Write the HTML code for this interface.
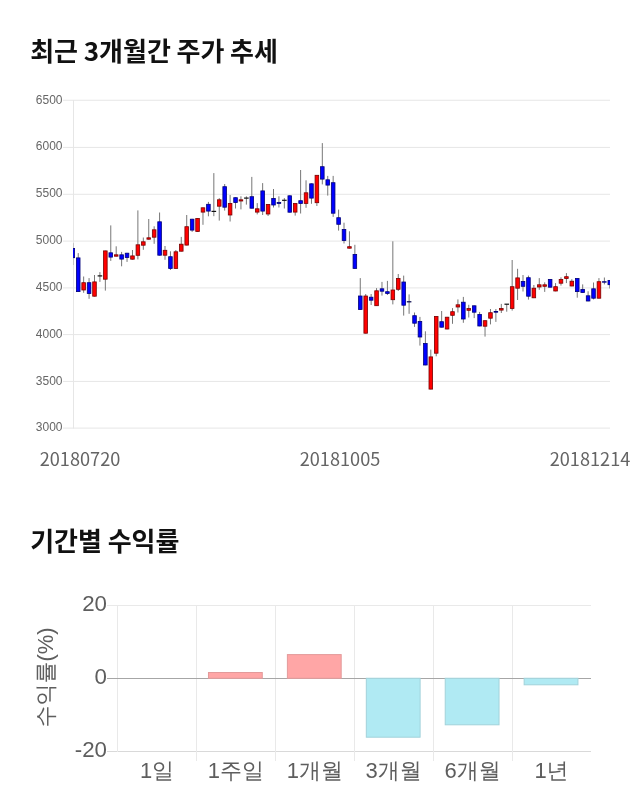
<!DOCTYPE html>
<html lang="ko"><head><meta charset="utf-8"><title>최근 3개월간 주가 추세</title>
<style>
html,body{margin:0;padding:0;background:#fff;}
body{width:640px;height:810px;position:relative;overflow:hidden;font-family:"Liberation Sans","Noto Sans CJK KR",sans-serif;}
h2{position:absolute;margin:0;left:30.2px;font-family:"Noto Sans CJK KR","Liberation Sans",sans-serif;font-weight:700;font-size:26px;line-height:36px;word-spacing:-1.6px;color:#111;white-space:nowrap;letter-spacing:0;}
#t1{top:32px;}
#t2{top:521.5px;}
svg{position:absolute;left:0;top:0;}
.yl{font-family:"Liberation Sans",sans-serif;font-size:12px;fill:#666;text-anchor:end;}
.xl{font-family:"Noto Sans CJK KR","Liberation Sans",sans-serif;font-size:18.15px;fill:#646464;text-anchor:middle;}
.by{font-family:"Liberation Sans",sans-serif;font-size:22.3px;fill:#5e5e5e;text-anchor:end;}
.bx{font-family:"Liberation Sans","WenQuanYi Zen Hei",sans-serif;font-size:22px;fill:#5e5e5e;text-anchor:middle;}
.bt{font-family:"Liberation Sans","WenQuanYi Zen Hei",sans-serif;font-size:22px;fill:#5e5e5e;text-anchor:middle;}
</style></head><body>
<h2 id="t1">최근 3개월간 주가 추세</h2>
<h2 id="t2">기간별 수익률</h2>
<svg width="640" height="810" viewBox="0 0 640 810">
<defs><clipPath id="cp"><rect x="73" y="95" width="537" height="340"/></clipPath></defs>

<g stroke="#e6e6e6" stroke-width="1">
<line x1="63" y1="100.25" x2="610" y2="100.25"/>
<line x1="63" y1="147.4" x2="610" y2="147.4"/>
<line x1="63" y1="194.3" x2="610" y2="194.3"/>
<line x1="63" y1="241.1" x2="610" y2="241.1"/>
<line x1="63" y1="287.9" x2="610" y2="287.9"/>
<line x1="63" y1="334.6" x2="610" y2="334.6"/>
<line x1="63" y1="381.4" x2="610" y2="381.4"/>
<line x1="63" y1="428.1" x2="610" y2="428.1"/>
<line x1="73.5" y1="100" x2="73.5" y2="428.5"/>
</g>
<text class="yl" x="62.5" y="103.5">6500</text>
<text class="yl" x="62.5" y="150.3">6000</text>
<text class="yl" x="62.5" y="197.1">5500</text>
<text class="yl" x="62.5" y="244.0">5000</text>
<text class="yl" x="62.5" y="290.8">4500</text>
<text class="yl" x="62.5" y="337.7">4000</text>
<text class="yl" x="62.5" y="384.5">3500</text>
<text class="yl" x="62.5" y="431.3">3000</text>
<text class="xl" x="80" y="466.3">20180720</text>
<text class="xl" x="340" y="466.3">20181005</text>
<text class="xl" x="590" y="466.3">20181214</text>
<g clip-path="url(#cp)">
<g stroke="#777" stroke-width="1">
<line x1="72.80" y1="243.1" x2="72.80" y2="265.0"/>
<line x1="78.22" y1="253.1" x2="78.22" y2="291.9"/>
<line x1="83.65" y1="276.5" x2="83.65" y2="292.8"/>
<line x1="89.07" y1="278.1" x2="89.07" y2="298.8"/>
<line x1="94.50" y1="275.0" x2="94.50" y2="296.5"/>
<line x1="99.92" y1="272.1" x2="99.92" y2="281.9"/>
<line x1="105.35" y1="250.6" x2="105.35" y2="290.6"/>
<line x1="110.77" y1="225.4" x2="110.77" y2="260.9"/>
<line x1="116.19" y1="246.3" x2="116.19" y2="256.5"/>
<line x1="121.62" y1="251.9" x2="121.62" y2="266.3"/>
<line x1="127.04" y1="252.8" x2="127.04" y2="261.9"/>
<line x1="132.47" y1="250.0" x2="132.47" y2="259.6"/>
<line x1="137.89" y1="210.4" x2="137.89" y2="259.4"/>
<line x1="143.32" y1="237.5" x2="143.32" y2="249.8"/>
<line x1="148.74" y1="219.0" x2="148.74" y2="239.6"/>
<line x1="154.16" y1="226.3" x2="154.16" y2="243.8"/>
<line x1="159.59" y1="212.5" x2="159.59" y2="255.6"/>
<line x1="165.01" y1="246.0" x2="165.01" y2="259.8"/>
<line x1="170.44" y1="251.3" x2="170.44" y2="270.0"/>
<line x1="175.86" y1="250.0" x2="175.86" y2="268.8"/>
<line x1="181.28" y1="236.9" x2="181.28" y2="251.5"/>
<line x1="186.71" y1="215.0" x2="186.71" y2="245.4"/>
<line x1="192.13" y1="218.8" x2="192.13" y2="231.9"/>
<line x1="197.56" y1="218.1" x2="197.56" y2="231.9"/>
<line x1="202.98" y1="207.5" x2="202.98" y2="224.8"/>
<line x1="208.41" y1="201.9" x2="208.41" y2="216.3"/>
<line x1="213.83" y1="173.1" x2="213.83" y2="216.2"/>
<line x1="219.25" y1="198.1" x2="219.25" y2="220.6"/>
<line x1="224.68" y1="184.0" x2="224.68" y2="210.6"/>
<line x1="230.10" y1="195.0" x2="230.10" y2="221.5"/>
<line x1="235.53" y1="197.3" x2="235.53" y2="208.5"/>
<line x1="240.95" y1="196.3" x2="240.95" y2="209.4"/>
<line x1="246.38" y1="196.3" x2="246.38" y2="204.6"/>
<line x1="251.80" y1="176.9" x2="251.80" y2="208.5"/>
<line x1="257.22" y1="203.1" x2="257.22" y2="214.4"/>
<line x1="262.65" y1="183.1" x2="262.65" y2="215.0"/>
<line x1="268.07" y1="204.1" x2="268.07" y2="216.0"/>
<line x1="273.50" y1="189.0" x2="273.50" y2="207.5"/>
<line x1="278.92" y1="196.3" x2="278.92" y2="207.5"/>
<line x1="284.35" y1="198.1" x2="284.35" y2="208.5"/>
<line x1="289.77" y1="195.4" x2="289.77" y2="212.5"/>
<line x1="295.19" y1="203.1" x2="295.19" y2="215.6"/>
<line x1="300.62" y1="170.0" x2="300.62" y2="213.5"/>
<line x1="306.04" y1="180.3" x2="306.04" y2="207.8"/>
<line x1="311.47" y1="183.4" x2="311.47" y2="203.8"/>
<line x1="316.89" y1="175.0" x2="316.89" y2="206.0"/>
<line x1="322.32" y1="143.1" x2="322.32" y2="184.4"/>
<line x1="327.74" y1="175.9" x2="327.74" y2="195.6"/>
<line x1="333.16" y1="175.9" x2="333.16" y2="216.9"/>
<line x1="338.59" y1="209.6" x2="338.59" y2="230.6"/>
<line x1="344.01" y1="222.7" x2="344.01" y2="243.5"/>
<line x1="349.44" y1="231.3" x2="349.44" y2="248.5"/>
<line x1="354.86" y1="244.8" x2="354.86" y2="268.8"/>
<line x1="360.28" y1="278.1" x2="360.28" y2="309.8"/>
<line x1="365.71" y1="294.0" x2="365.71" y2="333.5"/>
<line x1="371.13" y1="294.0" x2="371.13" y2="305.0"/>
<line x1="376.56" y1="288.1" x2="376.56" y2="306.0"/>
<line x1="381.98" y1="281.9" x2="381.98" y2="295.6"/>
<line x1="387.41" y1="280.9" x2="387.41" y2="295.0"/>
<line x1="392.83" y1="241.3" x2="392.83" y2="304.4"/>
<line x1="398.25" y1="274.0" x2="398.25" y2="291.0"/>
<line x1="403.68" y1="275.6" x2="403.68" y2="315.6"/>
<line x1="409.10" y1="294.4" x2="409.10" y2="313.8"/>
<line x1="414.53" y1="312.5" x2="414.53" y2="326.9"/>
<line x1="419.95" y1="316.9" x2="419.95" y2="345.6"/>
<line x1="425.38" y1="331.3" x2="425.38" y2="365.3"/>
<line x1="430.80" y1="349.6" x2="430.80" y2="389.4"/>
<line x1="436.22" y1="316.1" x2="436.22" y2="356.3"/>
<line x1="441.65" y1="311.0" x2="441.65" y2="327.5"/>
<line x1="447.07" y1="316.9" x2="447.07" y2="329.4"/>
<line x1="452.50" y1="308.1" x2="452.50" y2="323.8"/>
<line x1="457.92" y1="299.4" x2="457.92" y2="312.5"/>
<line x1="463.35" y1="296.9" x2="463.35" y2="322.8"/>
<line x1="468.77" y1="304.8" x2="468.77" y2="317.5"/>
<line x1="474.19" y1="305.4" x2="474.19" y2="318.1"/>
<line x1="479.62" y1="311.9" x2="479.62" y2="326.3"/>
<line x1="485.04" y1="320.3" x2="485.04" y2="336.6"/>
<line x1="490.47" y1="309.0" x2="490.47" y2="324.4"/>
<line x1="495.89" y1="309.0" x2="495.89" y2="321.9"/>
<line x1="501.32" y1="303.9" x2="501.32" y2="313.0"/>
<line x1="506.74" y1="304.2" x2="506.74" y2="311.7"/>
<line x1="512.16" y1="260.0" x2="512.16" y2="310.6"/>
<line x1="517.59" y1="268.8" x2="517.59" y2="300.0"/>
<line x1="523.01" y1="275.0" x2="523.01" y2="291.5"/>
<line x1="528.44" y1="275.6" x2="528.44" y2="299.6"/>
<line x1="533.86" y1="285.0" x2="533.86" y2="298.1"/>
<line x1="539.28" y1="278.1" x2="539.28" y2="289.8"/>
<line x1="544.71" y1="282.3" x2="544.71" y2="291.9"/>
<line x1="550.13" y1="279.0" x2="550.13" y2="287.5"/>
<line x1="555.56" y1="283.1" x2="555.56" y2="291.3"/>
<line x1="560.98" y1="277.3" x2="560.98" y2="285.6"/>
<line x1="566.41" y1="273.1" x2="566.41" y2="283.1"/>
<line x1="571.83" y1="279.2" x2="571.83" y2="286.3"/>
<line x1="577.25" y1="278.1" x2="577.25" y2="297.7"/>
<line x1="582.68" y1="284.4" x2="582.68" y2="292.8"/>
<line x1="588.10" y1="291.3" x2="588.10" y2="301.3"/>
<line x1="593.53" y1="282.5" x2="593.53" y2="299.4"/>
<line x1="598.95" y1="278.1" x2="598.95" y2="298.5"/>
<line x1="604.38" y1="277.5" x2="604.38" y2="284.4"/>
<line x1="609.80" y1="280.0" x2="609.80" y2="288.5"/>
</g>
<rect x="71.00" y="248.4" width="3.6" height="9.3" fill="#0000ff" stroke="#000078" stroke-width="0.8"/>
<rect x="76.42" y="257.9" width="3.6" height="33.7" fill="#0000ff" stroke="#000078" stroke-width="0.8"/>
<rect x="81.85" y="282.7" width="3.6" height="7.3" fill="#ff0000" stroke="#780000" stroke-width="0.8"/>
<rect x="87.27" y="282.7" width="3.6" height="10.8" fill="#0000ff" stroke="#000078" stroke-width="0.8"/>
<rect x="92.70" y="281.9" width="3.6" height="14.3" fill="#ff0000" stroke="#780000" stroke-width="0.8"/>
<rect x="97.62" y="275.3" width="4.6" height="1.2" fill="#111"/>
<rect x="103.55" y="250.9" width="3.6" height="28.3" fill="#ff0000" stroke="#780000" stroke-width="0.8"/>
<rect x="108.97" y="252.8" width="3.6" height="4.3" fill="#0000ff" stroke="#000078" stroke-width="0.8"/>
<rect x="114.39" y="254.8" width="3.6" height="1.4" fill="#ff0000" stroke="#780000" stroke-width="0.8"/>
<rect x="119.82" y="254.8" width="3.6" height="4.3" fill="#0000ff" stroke="#000078" stroke-width="0.8"/>
<rect x="125.24" y="253.2" width="3.6" height="4.3" fill="#0000ff" stroke="#000078" stroke-width="0.8"/>
<rect x="130.67" y="255.9" width="3.6" height="3.3" fill="#ff0000" stroke="#780000" stroke-width="0.8"/>
<rect x="136.09" y="244.8" width="3.6" height="10.5" fill="#ff0000" stroke="#780000" stroke-width="0.8"/>
<rect x="141.52" y="241.8" width="3.6" height="3.4" fill="#ff0000" stroke="#780000" stroke-width="0.8"/>
<rect x="146.94" y="237.8" width="3.6" height="1.4" fill="#ff0000" stroke="#780000" stroke-width="0.8"/>
<rect x="152.36" y="229.8" width="3.6" height="7.4" fill="#ff0000" stroke="#780000" stroke-width="0.8"/>
<rect x="157.79" y="221.8" width="3.6" height="33.4" fill="#0000ff" stroke="#000078" stroke-width="0.8"/>
<rect x="163.21" y="250.3" width="3.6" height="4.9" fill="#ff0000" stroke="#780000" stroke-width="0.8"/>
<rect x="168.64" y="256.7" width="3.6" height="11.8" fill="#0000ff" stroke="#000078" stroke-width="0.8"/>
<rect x="174.06" y="251.8" width="3.6" height="16.6" fill="#ff0000" stroke="#780000" stroke-width="0.8"/>
<rect x="179.48" y="244.2" width="3.6" height="7.0" fill="#ff0000" stroke="#780000" stroke-width="0.8"/>
<rect x="184.91" y="226.7" width="3.6" height="18.4" fill="#ff0000" stroke="#780000" stroke-width="0.8"/>
<rect x="190.33" y="219.2" width="3.6" height="10.9" fill="#0000ff" stroke="#000078" stroke-width="0.8"/>
<rect x="195.76" y="218.4" width="3.6" height="13.1" fill="#ff0000" stroke="#780000" stroke-width="0.8"/>
<rect x="201.18" y="207.8" width="3.6" height="4.3" fill="#ff0000" stroke="#780000" stroke-width="0.8"/>
<rect x="206.61" y="204.3" width="3.6" height="6.8" fill="#0000ff" stroke="#000078" stroke-width="0.8"/>
<rect x="211.53" y="210.8" width="4.6" height="1.2" fill="#111"/>
<rect x="217.45" y="199.8" width="3.6" height="6.4" fill="#ff0000" stroke="#780000" stroke-width="0.8"/>
<rect x="222.88" y="186.7" width="3.6" height="20.5" fill="#0000ff" stroke="#000078" stroke-width="0.8"/>
<rect x="228.30" y="203.4" width="3.6" height="11.6" fill="#ff0000" stroke="#780000" stroke-width="0.8"/>
<rect x="233.73" y="197.7" width="3.6" height="4.9" fill="#0000ff" stroke="#000078" stroke-width="0.8"/>
<rect x="239.15" y="199.8" width="3.6" height="1.2" fill="#ff0000" stroke="#780000" stroke-width="0.8"/>
<rect x="244.08" y="197.5" width="4.6" height="1.2" fill="#111"/>
<rect x="250.00" y="196.7" width="3.6" height="11.5" fill="#0000ff" stroke="#000078" stroke-width="0.8"/>
<rect x="255.42" y="208.8" width="3.6" height="3.3" fill="#ff0000" stroke="#780000" stroke-width="0.8"/>
<rect x="260.85" y="190.9" width="3.6" height="20.2" fill="#0000ff" stroke="#000078" stroke-width="0.8"/>
<rect x="266.27" y="204.4" width="3.6" height="9.6" fill="#ff0000" stroke="#780000" stroke-width="0.8"/>
<rect x="271.70" y="198.4" width="3.6" height="6.6" fill="#0000ff" stroke="#000078" stroke-width="0.8"/>
<rect x="277.12" y="202.4" width="3.6" height="1.0" fill="#0000ff" stroke="#000078" stroke-width="0.8"/>
<rect x="282.05" y="199.7" width="4.6" height="1.2" fill="#111"/>
<rect x="287.97" y="195.8" width="3.6" height="16.4" fill="#0000ff" stroke="#000078" stroke-width="0.8"/>
<rect x="293.39" y="203.4" width="3.6" height="8.7" fill="#ff0000" stroke="#780000" stroke-width="0.8"/>
<rect x="298.82" y="200.7" width="3.6" height="2.8" fill="#0000ff" stroke="#000078" stroke-width="0.8"/>
<rect x="304.24" y="192.8" width="3.6" height="10.6" fill="#ff0000" stroke="#780000" stroke-width="0.8"/>
<rect x="309.67" y="183.8" width="3.6" height="14.3" fill="#0000ff" stroke="#000078" stroke-width="0.8"/>
<rect x="315.09" y="175.3" width="3.6" height="27.4" fill="#ff0000" stroke="#780000" stroke-width="0.8"/>
<rect x="320.52" y="166.7" width="3.6" height="12.4" fill="#0000ff" stroke="#000078" stroke-width="0.8"/>
<rect x="325.94" y="179.8" width="3.6" height="5.3" fill="#0000ff" stroke="#000078" stroke-width="0.8"/>
<rect x="331.36" y="182.7" width="3.6" height="30.5" fill="#0000ff" stroke="#000078" stroke-width="0.8"/>
<rect x="336.79" y="217.7" width="3.6" height="6.6" fill="#0000ff" stroke="#000078" stroke-width="0.8"/>
<rect x="342.21" y="229.4" width="3.6" height="11.2" fill="#0000ff" stroke="#000078" stroke-width="0.8"/>
<rect x="347.64" y="246.7" width="3.6" height="1.5" fill="#ff0000" stroke="#780000" stroke-width="0.8"/>
<rect x="353.06" y="254.4" width="3.6" height="14.0" fill="#0000ff" stroke="#000078" stroke-width="0.8"/>
<rect x="358.48" y="296.0" width="3.6" height="13.5" fill="#0000ff" stroke="#000078" stroke-width="0.8"/>
<rect x="363.91" y="296.0" width="3.6" height="37.2" fill="#ff0000" stroke="#780000" stroke-width="0.8"/>
<rect x="369.33" y="297.2" width="3.6" height="3.0" fill="#0000ff" stroke="#000078" stroke-width="0.8"/>
<rect x="374.76" y="290.8" width="3.6" height="14.9" fill="#ff0000" stroke="#780000" stroke-width="0.8"/>
<rect x="380.18" y="288.8" width="3.6" height="2.4" fill="#0000ff" stroke="#000078" stroke-width="0.8"/>
<rect x="385.61" y="291.7" width="3.6" height="1.8" fill="#0000ff" stroke="#000078" stroke-width="0.8"/>
<rect x="391.03" y="290.0" width="3.6" height="9.7" fill="#ff0000" stroke="#780000" stroke-width="0.8"/>
<rect x="396.45" y="278.5" width="3.6" height="10.8" fill="#ff0000" stroke="#780000" stroke-width="0.8"/>
<rect x="401.88" y="282.0" width="3.6" height="23.2" fill="#0000ff" stroke="#000078" stroke-width="0.8"/>
<rect x="406.80" y="301.2" width="4.6" height="1.2" fill="#00004a"/>
<rect x="412.73" y="315.7" width="3.6" height="7.5" fill="#0000ff" stroke="#000078" stroke-width="0.8"/>
<rect x="418.15" y="321.4" width="3.6" height="15.6" fill="#0000ff" stroke="#000078" stroke-width="0.8"/>
<rect x="423.58" y="343.5" width="3.6" height="21.5" fill="#0000ff" stroke="#000078" stroke-width="0.8"/>
<rect x="429.00" y="356.9" width="3.6" height="32.2" fill="#ff0000" stroke="#780000" stroke-width="0.8"/>
<rect x="434.42" y="316.5" width="3.6" height="36.7" fill="#ff0000" stroke="#780000" stroke-width="0.8"/>
<rect x="439.85" y="321.7" width="3.6" height="5.5" fill="#0000ff" stroke="#000078" stroke-width="0.8"/>
<rect x="445.27" y="317.2" width="3.6" height="11.8" fill="#ff0000" stroke="#780000" stroke-width="0.8"/>
<rect x="450.70" y="311.7" width="3.6" height="3.6" fill="#ff0000" stroke="#780000" stroke-width="0.8"/>
<rect x="456.12" y="304.8" width="3.6" height="2.2" fill="#ff0000" stroke="#780000" stroke-width="0.8"/>
<rect x="461.55" y="302.2" width="3.6" height="16.8" fill="#0000ff" stroke="#000078" stroke-width="0.8"/>
<rect x="466.97" y="308.5" width="3.6" height="1.8" fill="#ff0000" stroke="#780000" stroke-width="0.8"/>
<rect x="472.39" y="305.8" width="3.6" height="6.4" fill="#0000ff" stroke="#000078" stroke-width="0.8"/>
<rect x="477.82" y="314.5" width="3.6" height="11.5" fill="#0000ff" stroke="#000078" stroke-width="0.8"/>
<rect x="483.24" y="320.7" width="3.6" height="5.5" fill="#ff0000" stroke="#780000" stroke-width="0.8"/>
<rect x="488.67" y="312.7" width="3.6" height="5.5" fill="#ff0000" stroke="#780000" stroke-width="0.8"/>
<rect x="494.09" y="311.4" width="3.6" height="0.8" fill="#0000ff" stroke="#000078" stroke-width="0.8"/>
<rect x="499.52" y="308.5" width="3.6" height="1.6" fill="#ff0000" stroke="#780000" stroke-width="0.8"/>
<rect x="504.44" y="303.6" width="4.6" height="1.2" fill="#111"/>
<rect x="510.36" y="286.7" width="3.6" height="21.8" fill="#ff0000" stroke="#780000" stroke-width="0.8"/>
<rect x="515.79" y="277.9" width="3.6" height="10.3" fill="#ff0000" stroke="#780000" stroke-width="0.8"/>
<rect x="521.21" y="281.4" width="3.6" height="4.9" fill="#0000ff" stroke="#000078" stroke-width="0.8"/>
<rect x="526.64" y="277.7" width="3.6" height="18.5" fill="#0000ff" stroke="#000078" stroke-width="0.8"/>
<rect x="532.06" y="288.2" width="3.6" height="9.6" fill="#ff0000" stroke="#780000" stroke-width="0.8"/>
<rect x="537.48" y="284.8" width="3.6" height="2.2" fill="#ff0000" stroke="#780000" stroke-width="0.8"/>
<rect x="542.91" y="284.8" width="3.6" height="1.5" fill="#ff0000" stroke="#780000" stroke-width="0.8"/>
<rect x="548.33" y="279.4" width="3.6" height="7.8" fill="#0000ff" stroke="#000078" stroke-width="0.8"/>
<rect x="553.76" y="286.7" width="3.6" height="4.3" fill="#ff0000" stroke="#780000" stroke-width="0.8"/>
<rect x="559.18" y="279.4" width="3.6" height="3.8" fill="#ff0000" stroke="#780000" stroke-width="0.8"/>
<rect x="564.61" y="276.7" width="3.6" height="1.8" fill="#ff0000" stroke="#780000" stroke-width="0.8"/>
<rect x="570.03" y="281.2" width="3.6" height="4.8" fill="#ff0000" stroke="#780000" stroke-width="0.8"/>
<rect x="575.45" y="278.5" width="3.6" height="13.1" fill="#0000ff" stroke="#000078" stroke-width="0.8"/>
<rect x="580.88" y="289.4" width="3.6" height="3.1" fill="#0000ff" stroke="#000078" stroke-width="0.8"/>
<rect x="586.30" y="295.8" width="3.6" height="5.2" fill="#0000ff" stroke="#000078" stroke-width="0.8"/>
<rect x="591.73" y="288.8" width="3.6" height="9.4" fill="#0000ff" stroke="#000078" stroke-width="0.8"/>
<rect x="597.15" y="281.7" width="3.6" height="16.5" fill="#ff0000" stroke="#780000" stroke-width="0.8"/>
<rect x="602.58" y="281.7" width="3.6" height="0.5" fill="#0000ff" stroke="#000078" stroke-width="0.8"/>
<rect x="608.00" y="280.4" width="3.6" height="4.3" fill="#0000ff" stroke="#000078" stroke-width="0.8"/>
</g>
<g shape-rendering="crispEdges" stroke="#e9e9e9" stroke-width="1">
<line x1="106.5" y1="605.5" x2="591" y2="605.5"/>
<line x1="106.5" y1="751.5" x2="591" y2="751.5" stroke="#d9d9d9"/>
<line x1="117.5" y1="605" x2="117.5" y2="752"/>
<line x1="196.5" y1="605" x2="196.5" y2="761"/>
<line x1="275.5" y1="605" x2="275.5" y2="761"/>
<line x1="354.5" y1="605" x2="354.5" y2="761"/>
<line x1="433.5" y1="605" x2="433.5" y2="761"/>
<line x1="512.5" y1="605" x2="512.5" y2="761"/>
</g>
<line x1="106.5" y1="678.5" x2="591" y2="678.5" stroke="#a6a6a6" stroke-width="1" shape-rendering="crispEdges"/>
<rect x="208.47" y="672.50" width="53.8" height="5.75" fill="#ffa6a6" stroke="#e39a9a" stroke-width="1"/>
<rect x="287.39" y="654.60" width="53.8" height="23.65" fill="#ffa6a6" stroke="#e39a9a" stroke-width="1"/>
<rect x="366.31" y="678.25" width="53.8" height="58.95" fill="#b0eaf3" stroke="#a2d2da" stroke-width="1"/>
<rect x="445.23" y="678.25" width="53.8" height="46.55" fill="#b0eaf3" stroke="#a2d2da" stroke-width="1"/>
<rect x="524.14" y="678.25" width="53.8" height="6.55" fill="#b0eaf3" stroke="#a2d2da" stroke-width="1"/>
<text class="by" x="107" y="611.2">20</text>
<text class="by" x="107" y="684.2">0</text>
<text class="by" x="107" y="757.2">-20</text>
<text class="bx" x="157.0" y="778">1일</text>
<text class="bx" x="235.9" y="778">1주일</text>
<text class="bx" x="314.8" y="778">1개월</text>
<text class="bx" x="393.7" y="778">3개월</text>
<text class="bx" x="472.6" y="778">6개월</text>
<text class="bx" x="551.5" y="778">1년</text>
<text class="bt" transform="translate(53,677.5) rotate(-90)">수익률(%)</text>
</svg></body></html>
